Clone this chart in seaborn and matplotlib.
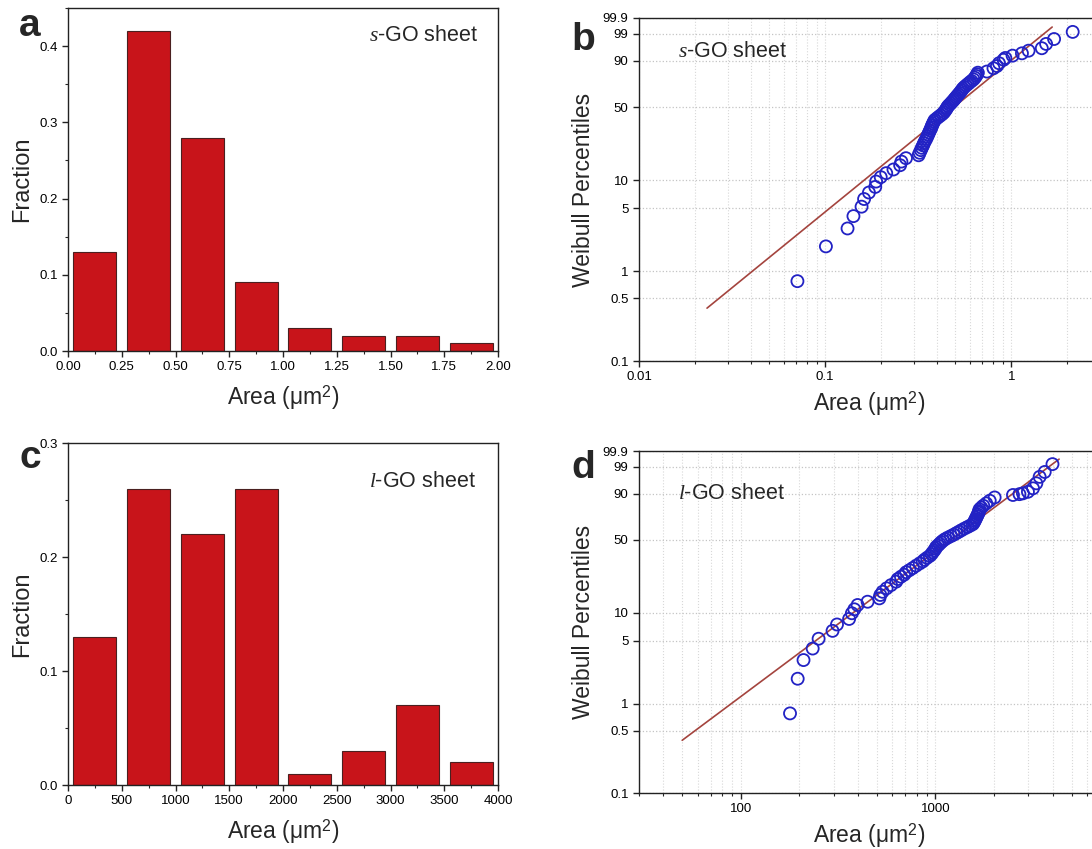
import numpy as np
import seaborn as sns
import matplotlib
matplotlib.use("Agg")
import matplotlib.pyplot as plt
from matplotlib import ticker

# --- data ---
# a: s-GO histogram
a_centers = [0.125, 0.375, 0.625, 0.875, 1.125, 1.375, 1.625, 1.875]
a_fraction = [0.13, 0.42, 0.28, 0.09, 0.03, 0.02, 0.02, 0.01]

# c: l-GO histogram
c_centers = [250, 750, 1250, 1750, 2250, 2750, 3250, 3750]
c_fraction = [0.13, 0.26, 0.22, 0.26, 0.01, 0.03, 0.07, 0.02]

# b: s-GO Weibull plot
b_area = [0.071, 0.101, 0.132, 0.142, 0.157, 0.162, 0.172, 0.186, 0.188, 0.199,
          0.213, 0.233, 0.253, 0.257, 0.272, 0.318, 0.322, 0.327, 0.331, 0.336,
          0.340, 0.345, 0.350, 0.354, 0.358, 0.362, 0.366, 0.370, 0.373, 0.376,
          0.380, 0.384, 0.388, 0.398, 0.408, 0.418, 0.428, 0.436, 0.442, 0.448,
          0.452, 0.458, 0.466, 0.474, 0.482, 0.490, 0.497, 0.504, 0.512, 0.520,
          0.528, 0.536, 0.543, 0.550, 0.560, 0.572, 0.585, 0.598, 0.612, 0.627,
          0.638, 0.648, 0.655, 0.662, 0.740, 0.803, 0.838, 0.860, 0.910, 0.930,
          1.017, 1.142, 1.240, 1.460, 1.540, 1.700, 2.140]
b_pct = [0.78, 1.9, 3.0, 4.1, 5.2, 6.3, 7.4, 8.5, 9.7, 10.8,
         11.9, 13.0, 14.4, 15.7, 17.0, 18.2, 19.3, 20.5, 21.6, 22.8,
         24.0, 25.3, 26.5, 27.8, 29.0, 30.3, 31.6, 32.8, 34.0, 35.3,
         36.6, 37.9, 39.2, 40.5, 41.8, 43.0, 44.3, 45.6, 47.0, 48.3,
         49.6, 51.0, 52.3, 53.6, 55.0, 56.3, 57.7, 59.0, 60.4, 61.8,
         63.2, 64.6, 66.0, 67.4, 68.8, 70.2, 71.6, 73.0, 74.4, 75.8,
         77.3, 78.8, 80.2, 81.5, 82.4, 84.9, 86.5, 88.4, 90.5, 91.5,
         92.7, 93.8, 94.9, 95.8, 97.1, 98.2, 99.2]
b_fit_area = [0.0232, 1.66]
b_fit_pct = [0.39, 99.58]

# d: l-GO Weibull plot
d_area = [179, 196, 210, 234, 251, 296, 312, 360, 372, 383,
          398, 448, 515, 521, 535, 561, 591, 628, 640, 665,
          690, 707, 735, 765, 796, 830, 860, 878, 905, 935,
          955, 968, 985, 1000, 1008, 1030, 1050, 1070, 1092, 1120,
          1157, 1200, 1240, 1279, 1320, 1360, 1410, 1460, 1510, 1556,
          1575, 1590, 1605, 1619, 1635, 1650, 1665, 1675, 1684, 1720,
          1760, 1823, 1900, 2013, 2501, 2700, 2813, 2985, 3170, 3297,
          3428, 3640, 3990]
d_pct = [0.78, 1.9, 3.06, 4.1, 5.25, 6.4, 7.5, 8.6, 9.9, 10.9,
         12.1, 13.1, 14.2, 15.4, 16.6, 18.0, 19.4, 21.0, 22.3, 23.5,
         24.6, 26.0, 27.2, 28.5, 30.0, 31.5, 32.8, 34.0, 35.4, 36.8,
         38.2, 39.6, 41.0, 42.5, 43.8, 45.2, 46.6, 48.0, 49.3, 50.7,
         52.1, 53.5, 54.8, 56.2, 57.6, 59.0, 60.6, 62.0, 63.4, 64.8,
         66.3, 67.8, 69.3, 70.8, 72.3, 73.8, 75.3, 76.8, 78.3, 79.8,
         81.3, 83.2, 85.2, 87.5, 89.1, 89.6, 90.1, 91.0, 92.8, 95.0,
         97.1, 98.2, 99.27]
d_fit_area = [50, 4316]
d_fit_pct = [0.39, 99.63]

pct_ticks = [0.1, 0.5, 1, 5, 10, 50, 90, 99, 99.9]
pct_labels = ["0.1", "0.5", "1", "5", "10", "50", "90", "99", "99.9"]

# --- style ---
sns.set_style("ticks")
plt.rcParams["font.family"] = ["Liberation Sans", "DejaVu Sans"]
plt.rcParams["mathtext.fontset"] = "custom"
plt.rcParams["mathtext.rm"] = "Liberation Sans"
plt.rcParams["mathtext.it"] = "Liberation Serif:italic"
plt.rcParams["axes.linewidth"] = 1.0
plt.rcParams["axes.edgecolor"] = "#222222"

BAR = "#c8141a"
CIRC = "#2222c4"
FIT = "#a4443e"

W, H = 1092, 849
fig = plt.figure(figsize=(W / 100, H / 100), dpi=100)


def rect(l, t, r, b):
    return [l / W, 1 - b / H, (r - l) / W, (b - t) / H]


def weib_fwd(p):
    p = np.clip(np.asarray(p, dtype=float), 1e-6, 99.99999) / 100.0
    return np.log(-np.log(1 - p))


def weib_inv(w):
    return 100.0 * (1 - np.exp(-np.exp(np.asarray(w, dtype=float))))


def style_ticks(ax):
    ax.tick_params(direction="out", length=4, width=1, labelsize=9.5, colors="#222222",
                   labelcolor="black", top=False, right=False)
    ax.tick_params(which="minor", direction="out", length=2.5, width=0.8, top=False, right=False)
    for s in ax.spines.values():
        s.set_visible(True)


def hist_panel(ax, centers, vals, xlim, ylim, xmaj, xmin_step, ymaj, ymin_step, xfmt, yfmt):
    sns.barplot(x=centers, y=vals, native_scale=True, width=0.8, color=BAR,
                saturation=1, edgecolor="#4a2020", linewidth=0.8, ax=ax)
    ax.set_xlim(*xlim)
    ax.set_ylim(*ylim)
    ax.xaxis.set_major_locator(ticker.MultipleLocator(xmaj))
    ax.xaxis.set_minor_locator(ticker.MultipleLocator(xmin_step))
    ax.yaxis.set_major_locator(ticker.MultipleLocator(ymaj))
    ax.yaxis.set_minor_locator(ticker.MultipleLocator(ymin_step))
    ax.xaxis.set_major_formatter(ticker.FormatStrFormatter(xfmt))
    ax.yaxis.set_major_formatter(ticker.FormatStrFormatter(yfmt))
    ax.set_xlabel("Area (μm$^2$)", fontsize=16.5, labelpad=7)
    ax.set_ylabel("Fraction", fontsize=17, labelpad=4)
    style_ticks(ax)


def weibull_panel(ax, area, pct, fit_x, fit_p, xlim, xticks, xlabels):
    ax.set_xscale("log")
    ax.set_yscale("function", functions=(weib_fwd, weib_inv))
    sns.lineplot(x=fit_x, y=fit_p, color=FIT, linewidth=1.2, sort=False, ax=ax)
    sns.scatterplot(x=area, y=pct, s=75, marker="o", facecolor="none",
                    edgecolor=CIRC, linewidth=1.3, ax=ax, zorder=3)
    ax.set_xlim(*xlim)
    ax.set_ylim(0.1, 99.9)
    ax.set_xticks(xticks, labels=xlabels)
    ax.xaxis.set_minor_locator(ticker.LogLocator(base=10, subs=np.arange(2, 10), numticks=20))
    ax.xaxis.set_minor_formatter(ticker.NullFormatter())
    ax.set_yticks(pct_ticks, labels=pct_labels)
    ax.yaxis.set_minor_locator(ticker.NullLocator())
    ax.grid(True, which="both", axis="x", linestyle=":", color="#d8d8d8", linewidth=0.8)
    ax.grid(True, which="major", axis="y", linestyle=":", color="#c4c4c4", linewidth=0.9)
    ax.set_axisbelow(True)
    ax.set_xlabel("Area (μm$^2$)", fontsize=16.5, labelpad=4)
    ax.set_ylabel("Weibull Percentiles", fontsize=16.5, labelpad=6)
    style_ticks(ax)


ax_a = fig.add_axes(rect(68, 8, 498, 351))
hist_panel(ax_a, a_centers, a_fraction, (0, 2), (0, 0.45), 0.25, 0.125, 0.1, 0.05, "%.2f", "%.1f")
ax_a.text(0.70, 0.905, "$\\mathit{s}$-GO sheet", transform=ax_a.transAxes, fontsize=15.5)

ax_c = fig.add_axes(rect(68, 443, 498, 785))
hist_panel(ax_c, c_centers, c_fraction, (0, 4000), (0, 0.3), 500, 250, 0.1, 0.05, "%d", "%.1f")
ax_c.text(0.70, 0.87, "$\\mathit{l}$-GO sheet", transform=ax_c.transAxes, fontsize=15.5)

ax_b = fig.add_axes(rect(639, 18, 1100, 361))
weibull_panel(ax_b, b_area, b_pct, b_fit_area, b_fit_pct, (0.01, 3.0),
              [0.01, 0.1, 1], ["0.01", "0.1", "1"])
ax_b.text(0.085, 0.885, "$\\mathit{s}$-GO sheet", transform=ax_b.transAxes, fontsize=15.5)

ax_d = fig.add_axes(rect(639, 451, 1100, 793))
weibull_panel(ax_d, d_area, d_pct, d_fit_area, d_fit_pct, (30, 7000),
              [100, 1000], ["100", "1000"])
ax_d.text(0.085, 0.86, "$\\mathit{l}$-GO sheet", transform=ax_d.transAxes, fontsize=15.5)

# panel letters
for lab, x, y in [("a", 30, 26), ("b", 583, 40), ("c", 30, 458), ("d", 583, 468)]:
    fig.text(x / W, 1 - y / H, lab, fontsize=28, fontweight="bold", ha="center", va="center")

fig.savefig("out.png", dpi=100)
